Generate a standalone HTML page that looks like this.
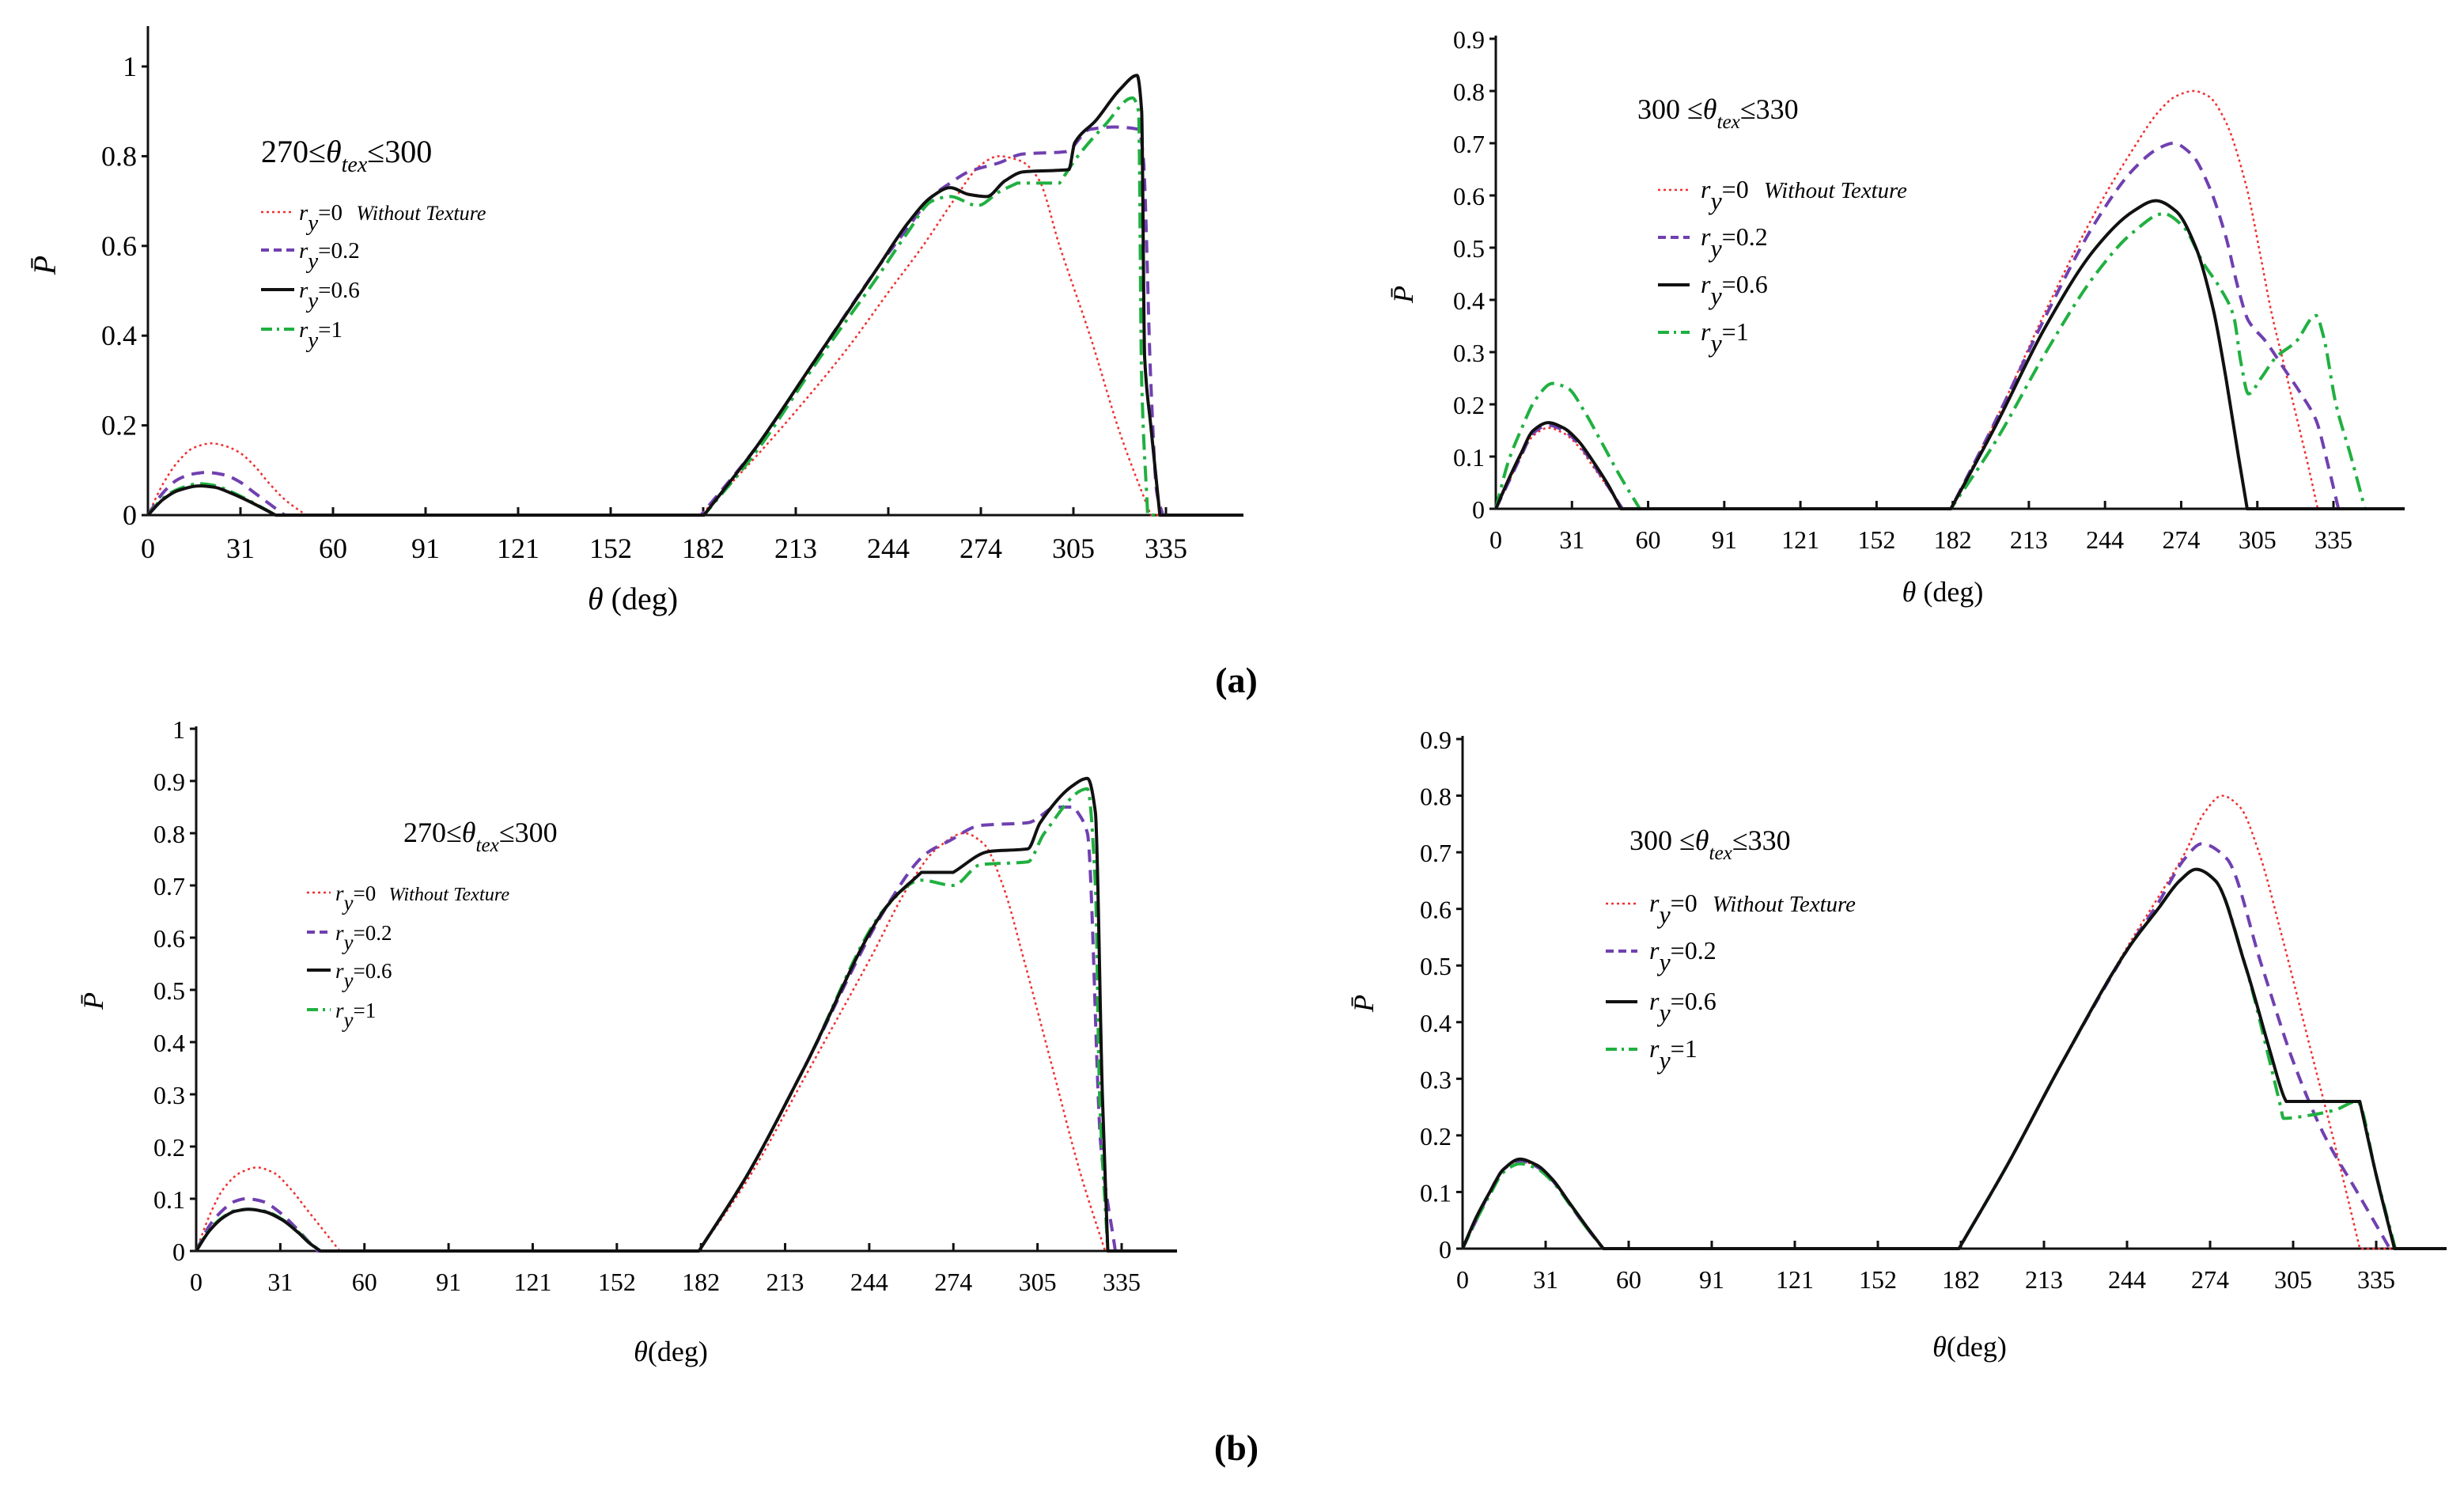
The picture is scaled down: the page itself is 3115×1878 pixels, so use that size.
<!DOCTYPE html>
<html><head><meta charset="utf-8">
<style>
html,body{margin:0;padding:0;background:#fff;}
svg{display:block;font-family:"Liberation Serif",serif;}
</style></head>
<body>
<svg id="fig" width="3115" height="1878" viewBox="0 0 3115 1878" xmlns="http://www.w3.org/2000/svg">
<rect width="3115" height="1878" fill="#fff"/>
<text x="1563" y="875" font-size="46" font-weight="bold" text-anchor="middle">(a)</text>
<text x="1563" y="1845" font-size="46" font-weight="bold" text-anchor="middle">(b)</text>
</svg>
<script>
// ---- data (theta in deg, P values) ----
const xTickLabels = ["0","31","60","91","121","152","182","213","244","274","305","335"];
const yTicksA1 = [0,0.2,0.4,0.6,0.8,1];
const yTicks09 = [0,0.1,0.2,0.3,0.4,0.5,0.6,0.7,0.8,0.9];
const yTicks10 = [0,0.1,0.2,0.3,0.4,0.5,0.6,0.7,0.8,0.9,1];

// Panel a-left
const aL_th_red = [0,5,10,15,21,25,30,35,40,45,52,100,182,200,213,230,244,255,265,274,280,287,293,300,310,320,330,365];
const aL_p_red  = [0,.07,.12,.15,.16,.155,.14,.11,.07,.035,0,0,0,.13,.23,.37,.50,.60,.70,.78,.80,.79,.75,.60,.40,.18,0,0];
const aL_th_pur = [0,5,10,15,19,25,30,35,40,45,100,182,200,220,240,250,258,264,270,280,288,302,310,318,326,327.5,330,332,334,365];
const aL_p_pur  = [0,.05,.08,.092,.095,.09,.075,.05,.025,0,0,0,.15,.35,.55,.64,.71,.74,.765,.785,.805,.81,.86,.865,.86,.80,.3,.05,0,0];
const aL_th_blk = [0,5,10,17,22,27,32,37,42,100,183,200,220,240,250,258,264,270,276,282,288,303,305,312,320,325.5,327,328,330,333,365];
const aL_p_blk  = [0,.035,.055,.065,.062,.05,.035,.018,0,0,0,.15,.35,.55,.65,.71,.73,.715,.71,.745,.765,.77,.83,.88,.95,.98,.9,.35,.2,0,0];
const aL_th_grn = [0,5,10,17,22,27,32,37,42,100,183,200,220,240,250,258,264,273,280,286,300,306,315,324,326,327,329,365];
const aL_p_grn  = [0,.038,.058,.07,.066,.053,.037,.019,0,0,0,.14,.34,.53,.63,.70,.71,.69,.72,.74,.74,.80,.87,.93,.9,.3,0,0];

// Panel a-right
const aR_th_red = [0,5,10,15,21,27,33,39,45,50.6,120,182,200,220,240,255,265,272,279,285,292,300,306,310,315,320,325,328.7,365];
const aR_p_red  = [0,.05,.1,.14,.155,.145,.12,.08,.04,0,0,0,.17,.38,.57,.69,.76,.79,.80,.79,.74,.62,.48,.38,.28,.18,.08,0,0];
const aR_th_pur = [0,5,10,15,21,27,33,39,45,50.6,120,182,200,220,240,255,265,271,278,285,292,297,301,308,315,322,328,333,337,365];
const aR_p_pur  = [0,.05,.1,.145,.16,.15,.125,.085,.042,0,0,0,.17,.37,.55,.65,.69,.70,.68,.62,.52,.42,.36,.32,.27,.22,.17,.08,0,0];
const aR_th_blk = [0,5,10,15,21,27,33,39,45,50,120,182,200,220,240,255,264,272,280,287,292,297,300.5,365];
const aR_p_blk  = [0,.055,.105,.15,.165,.155,.13,.09,.045,0,0,0,.16,.35,.50,.57,.59,.57,.50,.38,.25,.10,0,0];
const aR_th_grn = [0,5,10,16,22.6,29,35,42,50,57.6,120,182,200,220,240,255,267,275,283,290,295,298,301,306,312,320,328,331,336,342,347.6,365];
const aR_p_grn  = [0,.09,.15,.21,.24,.23,.19,.13,.06,0,0,0,.13,.30,.45,.53,.565,.54,.47,.42,.37,.28,.22,.25,.29,.32,.37,.33,.20,.10,0,0];

// Panel b-left
const bL_th_red = [0,5,10,16,22,28,34,40,46,52,120,182,200,220,244,258,268,278,285,292,300,310,320,329,365];
const bL_p_red  = [0,.07,.12,.15,.16,.15,.12,.08,.04,0,0,0,.14,.33,.56,.70,.77,.80,.78,.70,.55,.35,.15,0,0];
const bL_th_pur = [0,5,10,14,18,24,30,36,40,44,120,182,200,220,250,264,272.5,284,301,310,318,322.6,327.5,332.7,365];
const bL_p_pur  = [0,.05,.08,.095,.10,.095,.075,.045,.022,0,0,0,.15,.35,.66,.76,.785,.815,.82,.85,.85,.80,.20,0,0];
const bL_th_blk = [0,5,10,14,19,25,31,37,41,45,120,182,200,220,250,262.5,274,287,301,305.5,317,322.6,325.5,328,330,365];
const bL_p_blk  = [0,.04,.065,.076,.08,.075,.06,.035,.015,0,0,0,.15,.35,.66,.725,.725,.765,.77,.82,.89,.905,.84,.3,0,0];
const bL_th_grn = [0,5,10,14,19,25,31,37,41,45,120,182,200,220,250,262.5,274,284,301,307,322.6,325.5,327,330,365];
const bL_p_grn  = [0,.042,.066,.077,.08,.076,.061,.036,.016,0,0,0,.15,.35,.66,.71,.70,.74,.745,.80,.885,.70,.30,0,0];

// Panel b-right
const bR_th_red = [0,5,10,15,21,27,33,39,45,51.6,120,182,200,220,244,255,265,272,278.5,285,292,300,310,320,329,365];
const bR_p_red  = [0,.05,.1,.14,.155,.145,.12,.08,.04,0,0,0,.15,.33,.535,.62,.70,.77,.80,.78,.70,.56,.37,.18,0,0];
const bR_th_pur = [0,5,10,15,21,27,33,39,45,51.6,120,182,200,220,244,255,265,271,280,293,304.6,316,328,340,365];
const bR_p_pur  = [0,.05,.1,.14,.155,.145,.12,.08,.04,0,0,0,.15,.33,.53,.61,.69,.715,.69,.50,.33,.20,.10,0,0];
const bR_th_blk = [0,5,10,15,21,27,33,39,45,51.6,120,182,200,220,244,255,263,269,276,287,296,301,302,310,320,329,335,341.7,365];
const bR_p_blk  = [0,.055,.1,.14,.158,.148,.122,.082,.042,0,0,0,.15,.33,.53,.60,.65,.67,.65,.5,.35,.27,.26,.26,.26,.26,.13,0,0];
const bR_th_grn = [0,5,10,15,21,27,33,39,45,51.6,120,182,200,220,244,255,263,269,276,287,296,300,301,310,320,328,335,342,365];
const bR_p_grn  = [0,.05,.095,.135,.15,.142,.118,.08,.04,0,0,0,.15,.33,.53,.60,.65,.67,.65,.5,.33,.25,.23,.235,.245,.26,.13,0,0];

const NS = "http://www.w3.org/2000/svg";
const svg = document.getElementById("fig");
function el(tag, attrs, parent){const e=document.createElementNS(NS,tag);for(const k in attrs)e.setAttribute(k,attrs[k]);(parent||svg).appendChild(e);return e;}

const styles = {
  red:{stroke:"#f03030",w:2.5,dash:"3,4"},
  pur:{stroke:"#7040b0",w:4,dash:"16,10"},
  blk:{stroke:"#111",w:4,dash:""},
  grn:{stroke:"#20b040",w:4,dash:"20,8,4,8"}
};

// monotone-ish cubic Hermite with corners preserved next to flat segments
function smoothPath(P){
  const n = P.length;
  const d = [];
  for(let i=0;i<n-1;i++){const h=P[i+1][0]-P[i][0];d.push(h>0?(P[i+1][1]-P[i][1])/h:0);}
  const mL=new Array(n).fill(0), mR=new Array(n).fill(0);
  mR[0]=d[0]; mL[n-1]=d[n-2];
  for(let i=1;i<n-1;i++){
    const dl=d[i-1], dr=d[i];
    if(Math.abs(dl)<1e-9 && Math.abs(dr)>1e-9){mL[i]=0;mR[i]=dr;}
    else if(Math.abs(dr)<1e-9 && Math.abs(dl)>1e-9){mL[i]=dl;mR[i]=0;}
    else if(dl*dr<=0){mL[i]=mR[i]=0;}
    else {const m=2*dl*dr/(dl+dr);mL[i]=mR[i]=m;}
  }
  let s="M"+P[0][0].toFixed(1)+","+P[0][1].toFixed(1);
  for(let i=0;i<n-1;i++){
    const h=(P[i+1][0]-P[i][0])/3;
    s+=" C"+(P[i][0]+h).toFixed(1)+","+(P[i][1]+mR[i]*h).toFixed(1)+" "+(P[i+1][0]-h).toFixed(1)+","+(P[i+1][1]-mL[i+1]*h).toFixed(1)+" "+P[i+1][0].toFixed(1)+","+P[i+1][1].toFixed(1);
  }
  return s;
}

function panel(cfg){
  const g = el("g",{});
  
  
  const pxDeg = (cfg.x335 - cfg.x0)/335;
  const maxDeg = (cfg.xEnd - cfg.x0)/pxDeg;
  const X = d => cfg.x0 + Math.min(d,maxDeg)*pxDeg;
  const Y = v => cfg.y0 - v*(cfg.y0-cfg.yTop)/cfg.yMax;
  const ya = el("line",{x1:cfg.x0,y1:cfg.axisTop,x2:cfg.x0,y2:cfg.y0,stroke:"#111","stroke-width":3},g);
  
  
  const xa = el("line",{x1:cfg.x0,y1:cfg.y0,x2:cfg.xEnd,y2:cfg.y0,stroke:"#111","stroke-width":3},g);
  
  
  cfg.yTicks.forEach(v=>{
    el("line",{x1:cfg.x0-8,y1:Y(v),x2:cfg.x0,y2:Y(v),stroke:"#111","stroke-width":3},g);
    const t = el("text",{x:cfg.x0-14,y:Y(v)+12,"font-size":cfg.tick,"text-anchor":"end"},g);
    
    
    t.textContent = String(v);
  });
  xTickLabels.forEach((lbl,i)=>{
    const d = i*335/11;
    el("line",{x1:X(d),y1:cfg.y0-10,x2:X(d),y2:cfg.y0,stroke:"#111","stroke-width":3},g);
    const t = el("text",{x:X(d),y:cfg.y0+cfg.tick+18,"font-size":cfg.tick,"text-anchor":"middle"},g);
    
    
    t.textContent = lbl;
  });
  cfg.series.forEach(s=>{
    const st = styles[s.k];
    const P = s.th.map((d,i)=>[X(d),Y(s.p[i])]);
    const pl = el("path",{d:smoothPath(P),fill:"none",stroke:st.stroke,"stroke-width":st.w,"stroke-dasharray":st.dash,"stroke-linejoin":"round"},g);
    
    
  });
  const xt = el("text",{x:cfg.xTitle[0],y:cfg.xTitle[1],"font-size":cfg.tick+4,"text-anchor":"middle"},g);
  
  
  xt.innerHTML = '<tspan font-style="italic">θ</tspan>'+cfg.xTitleTxt;
  const yt = el("text",{x:0,y:0,"font-size":cfg.tick+4,"font-style":"italic","text-anchor":"middle",transform:`translate(${cfg.yTitle[0]},${cfg.yTitle[1]}) rotate(-90)`},g);
  
  
  yt.textContent = "P̄";
  const an = el("text",{x:cfg.ann[0],y:cfg.ann[1],"font-size":cfg.annSize},g);
  
  
  an.innerHTML = cfg.annTxt[0]+'≤<tspan font-style="italic">θ</tspan><tspan font-style="italic" font-size="'+(cfg.annSize*0.7)+'" dy="12">tex</tspan><tspan dy="-12">≤'+cfg.annTxt[1]+'</tspan>';
  const labels = ["=0","=0.2","=0.6","=1"];
  ["red","pur","blk","grn"].forEach((k,i)=>{
    const y = cfg.leg.ys[i];
    const st = styles[k];
    const ln = el("line",{x1:cfg.leg.x1,y1:y-10,x2:cfg.leg.x2,y2:y-10,stroke:st.stroke,"stroke-width":st.w,"stroke-dasharray":k==="pur"?"10,6":(k==="grn"?"14,6,3,6":st.dash)},g);
    
    
    const t = el("text",{x:cfg.leg.tx,y:y,"font-size":cfg.leg.size},g);
    
    
    t.innerHTML = '<tspan font-style="italic">r</tspan><tspan font-style="italic" dy="'+(cfg.leg.size*0.45)+'">y</tspan><tspan dy="'+(-cfg.leg.size*0.45)+'">'+labels[i]+'</tspan>'+(i===0?'<tspan font-style="italic" dx="'+(cfg.leg.size*0.6)+'" font-size="'+(cfg.leg.size*0.9)+'">Without Texture</tspan>':'');
  });
}

panel({name:"chart-a-left",x0:187,x335:1474,xEnd:1572,y0:651,yTop:84,yMax:1,axisTop:33,yTicks:yTicksA1,tick:36,
  xTitle:[800,770],xTitleTxt:" (deg)",yTitle:[70,335],ann:[330,205],annSize:40,annTxt:["270","300"],
  leg:{x1:330,x2:372,tx:378,ys:[278,326,376,426],size:29},
  series:[{k:"red",th:aL_th_red,p:aL_p_red},{k:"pur",th:aL_th_pur,p:aL_p_pur},{k:"grn",th:aL_th_grn,p:aL_p_grn},{k:"blk",th:aL_th_blk,p:aL_p_blk}]});
panel({name:"chart-a-right",x0:1891,x335:2950,xEnd:3040,y0:643,yTop:49,yMax:0.9,axisTop:45,yTicks:yTicks09,tick:32,
  xTitle:[2456,760],xTitleTxt:" (deg)",yTitle:[1786,372],ann:[2070,150],annSize:36,annTxt:["300 ","330"],
  leg:{x1:2096,x2:2136,tx:2150,ys:[250,310,370,430],size:32},
  series:[{k:"red",th:aR_th_red,p:aR_p_red},{k:"pur",th:aR_th_pur,p:aR_p_pur},{k:"grn",th:aR_th_grn,p:aR_p_grn},{k:"blk",th:aR_th_blk,p:aR_p_blk}]});
panel({name:"chart-b-left",x0:248,x335:1418,xEnd:1488,y0:1581,yTop:921,yMax:1,axisTop:918,yTicks:yTicks10,tick:32,
  xTitle:[848,1720],xTitleTxt:"(deg)",yTitle:[130,1265],ann:[510,1064],annSize:36,annTxt:["270","300"],
  leg:{x1:388,x2:418,tx:424,ys:[1138,1188,1236,1286],size:27},
  series:[{k:"red",th:bL_th_red,p:bL_p_red},{k:"pur",th:bL_th_pur,p:bL_p_pur},{k:"grn",th:bL_th_grn,p:bL_p_grn},{k:"blk",th:bL_th_blk,p:bL_p_blk}]});
panel({name:"chart-b-right",x0:1849,x335:3004,xEnd:3093,y0:1578,yTop:934,yMax:0.9,axisTop:930,yTicks:yTicks09,tick:32,
  xTitle:[2490,1714],xTitleTxt:"(deg)",yTitle:[1736,1268],ann:[2060,1074],annSize:36,annTxt:["300 ","330"],
  leg:{x1:2030,x2:2070,tx:2085,ys:[1152,1212,1276,1336],size:32},
  series:[{k:"red",th:bR_th_red,p:bR_p_red},{k:"pur",th:bR_th_pur,p:bR_p_pur},{k:"grn",th:bR_th_grn,p:bR_p_grn},{k:"blk",th:bR_th_blk,p:bR_p_blk}]});
</script>
</body></html>
